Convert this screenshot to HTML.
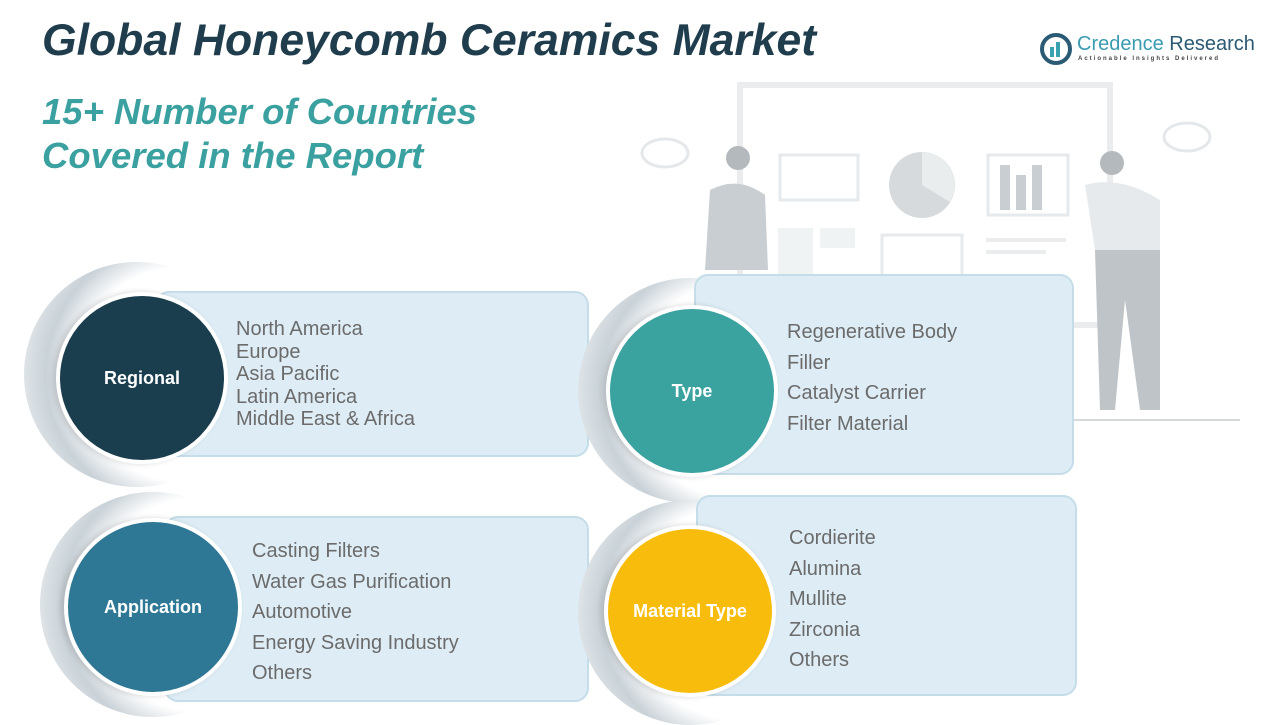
<!DOCTYPE html>
<html><head><meta charset="utf-8"><style>
body{margin:0;width:1280px;height:720px;background:#fff;position:relative;overflow:hidden;font-family:"Liberation Sans",sans-serif}
.t{position:absolute;font-weight:bold;font-style:italic}
.box{position:absolute;background:#deedf5;border:2px solid #c4dde9;border-radius:14px}
.cres{position:absolute;border-radius:50%;background:radial-gradient(circle at 70% 50%,#fff 55%,#c9d2d8 70%,#fff 100%)}
.circ{position:absolute;border-radius:50%;border:4px solid #fff;color:#fff;font-weight:bold;font-size:18px;display:flex;align-items:center;justify-content:center;box-shadow:-3px 0 6px rgba(0,0,0,.15)}
.list{position:absolute;color:#6b6b6b;font-size:20px}
</style></head><body>
<svg style="position:absolute;left:600px;top:70px" width="680" height="360" viewBox="600 70 680 360" opacity="0.75">
<rect x="740" y="85" width="370" height="240" fill="none" stroke="#e3e6e8" stroke-width="6"/>
<rect x="780" y="155" width="78" height="45" fill="none" stroke="#e0e4e6" stroke-width="3"/>
<circle cx="922" cy="185" r="33" fill="#c9ced2"/>
<path d="M922 185 L922 152 A33 33 0 0 1 950 202 Z" fill="#e4e7e9"/>
<rect x="988" y="155" width="80" height="60" fill="none" stroke="#e0e4e6" stroke-width="3"/>
<rect x="1000" y="165" width="10" height="45" fill="#b8bec3"/><rect x="1016" y="175" width="10" height="35" fill="#b8bec3"/><rect x="1032" y="165" width="10" height="45" fill="#b8bec3"/>
<rect x="882" y="235" width="80" height="45" fill="none" stroke="#e0e4e6" stroke-width="3"/>
<rect x="778" y="228" width="35" height="50" fill="#eceff0"/><rect x="820" y="228" width="35" height="20" fill="#eceff0"/>
<rect x="986" y="238" width="80" height="4" fill="#e3e6e8"/><rect x="986" y="250" width="60" height="4" fill="#e3e6e8"/>
<ellipse cx="665" cy="153" rx="23" ry="14" fill="none" stroke="#dde1e3" stroke-width="3"/>
<ellipse cx="1187" cy="137" rx="23" ry="14" fill="none" stroke="#dde1e3" stroke-width="3"/>
<circle cx="738" cy="158" r="12" fill="#9aa2a8"/>
<path d="M710 190 Q738 175 765 195 L768 270 L705 270 Z" fill="#b7bec3"/>
<circle cx="1112" cy="163" r="12" fill="#9aa2a8"/>
<path d="M1085 185 Q1120 175 1160 200 L1160 250 L1095 250 Z" fill="#dfe3e6"/>
<path d="M1095 250 L1160 250 L1160 410 L1140 410 L1125 300 L1115 410 L1100 410 Z" fill="#aab1b6"/>
<line x1="1070" y1="420" x2="1240" y2="420" stroke="#c9ced2" stroke-width="2"/>
</svg>
<div class="t" style="left:42px;top:16px;font-size:44.5px;color:#1f3d4c">Global Honeycomb Ceramics Market</div>
<div class="t" style="left:42px;top:90px;font-size:36.5px;line-height:44px;color:#3aa1a0">15+ Number of Countries<br>Covered in the Report</div>
<svg style="position:absolute;left:1040px;top:33px" width="36" height="32"><circle cx="16" cy="16" r="14" fill="none" stroke="#2a5a74" stroke-width="4"/><rect x="10" y="14" width="4" height="10" fill="#3aa1b0"/><rect x="16" y="9" width="4" height="15" fill="#3aa1b0"/></svg>
<div style="position:absolute;left:1077px;top:33px;font-size:20px;color:#3a9bb0">Credence <span style="color:#2b5a72">Research</span></div>
<div style="position:absolute;left:1078px;top:56px;font-size:6px;letter-spacing:2px;color:#444;font-weight:bold">Actionable Insights Delivered</div>

<div class="cres" style="left:24px;top:262px;width:225px;height:225px"></div>
<div class="box" style="left:155px;top:291px;width:430px;height:162px"></div>
<div class="circ" style="left:56px;top:292px;width:164px;height:164px;background:#1b3e4e">Regional</div>
<div class="list" style="left:236px;top:318px;line-height:22.5px">North America<br>Europe<br>Asia Pacific<br>Latin America<br>Middle East &amp; Africa</div>

<div class="cres" style="left:578px;top:278px;width:225px;height:225px"></div>
<div class="box" style="left:694px;top:274px;width:376px;height:197px"></div>
<div class="circ" style="left:606px;top:305px;width:164px;height:164px;background:#3aa29f">Type</div>
<div class="list" style="left:787px;top:317px;line-height:30.5px">Regenerative Body<br>Filler<br>Catalyst Carrier<br>Filter Material</div>

<div class="cres" style="left:40px;top:492px;width:225px;height:225px"></div>
<div class="box" style="left:164px;top:516px;width:421px;height:182px"></div>
<div class="circ" style="left:64px;top:518px;width:170px;height:170px;background:#2e7896">Application</div>
<div class="list" style="left:252px;top:536px;line-height:30.5px">Casting Filters<br>Water Gas Purification<br>Automotive<br>Energy Saving Industry<br>Others</div>

<div class="cres" style="left:578px;top:500px;width:225px;height:225px"></div>
<div class="box" style="left:696px;top:495px;width:377px;height:197px"></div>
<div class="circ" style="left:604px;top:525px;width:164px;height:164px;background:#f8bd0c">Material Type</div>
<div class="list" style="left:789px;top:523px;line-height:30.5px">Cordierite<br>Alumina<br>Mullite<br>Zirconia<br>Others</div>
</body></html>
